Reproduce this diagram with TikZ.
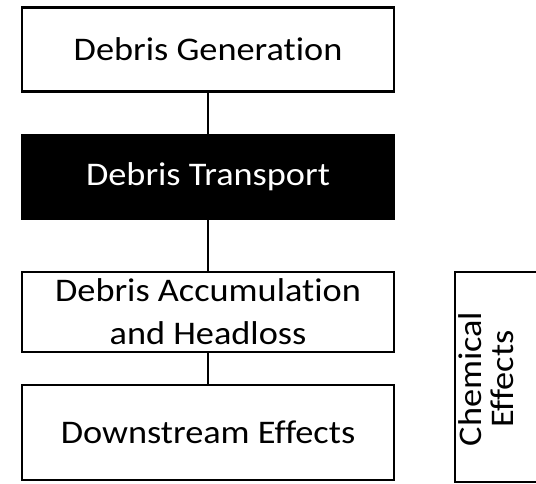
\documentclass[tikz,border=0pt]{standalone}
\usepackage{fontspec}
\setmainfont{Carlito}[FakeStretch=1.1, Ligatures=NoCommon]
\usetikzlibrary{arrows}

\begin{document}
\begin{tikzpicture}[x=0.5pt, y=-0.5pt,
		stage/.style={draw, line width=1.25pt, minimum width=186pt, inner sep=0pt,
			align=center, font=\fontsize{16.5}{21.5}\selectfont}]
		\useasboundingbox (0,0) rectangle (536,483);

		\node[stage, minimum height=42pt] (gen)   at (208, 49.5)  {Debris Generation};
		\node[stage, minimum height=42pt, fill=black, text=white]
		                                  (trans) at (208, 177)   {Debris Transport};
		\node[stage, minimum height=40pt] (accum) at (208, 312)   {Debris Accumulation\\and Headloss};
		\node[stage, minimum height=47.5pt] (down) at (208, 432.5) {Downstream Effects};

		% box runs off the right edge of the page
		\coordinate (chemtr) at (536, 272);
		\coordinate (chembr) at (536, 482);
		\node[rotate=90, align=center, inner sep=0pt,
			font=\fontsize{16.5}{16}\selectfont] (chem) at (486, 379) {Chemical\\Effects};
		\draw[line width=1.25pt] (chemtr) -- (455, 272) -- (455, 482) -- (chembr);

		\draw[line width=1.1pt] (gen)   -- (trans);
		\draw[line width=1.1pt] (trans) -- (accum);
		\draw[line width=1.1pt] (accum) -- (down);
	\end{tikzpicture}
\end{document}
